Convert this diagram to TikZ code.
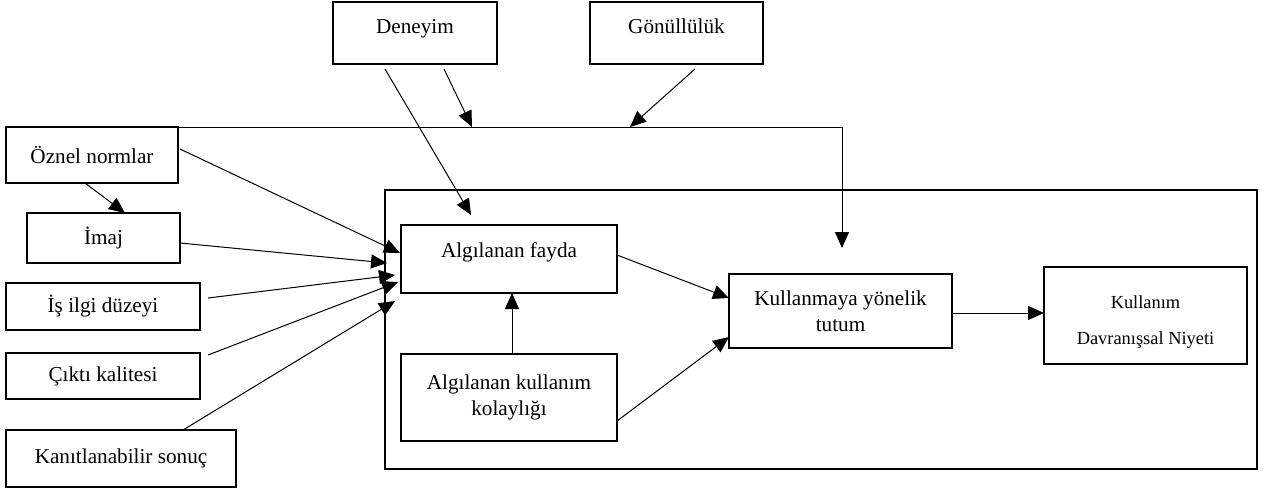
\documentclass[tikz,border=0pt]{standalone}
\usepackage{fontspec}
\setmainfont{Liberation Serif}
\usetikzlibrary{arrows.meta,calc}
\begin{document}
\begin{tikzpicture}[x=0.5pt,y=-0.5pt,
  box/.style={draw,line width=1.2pt,rectangle,inner sep=0pt,outer sep=0pt,align=center,font=\fontsize{10.6}{13}\selectfont},
  conn/.style={line width=0.5pt,-{Triangle[length=8pt,width=7pt]}},
  lbl/.style={inner sep=0pt,align=center}]
\useasboundingbox (0,0) rectangle (1263,488);
% outer frame
\draw[line width=1pt] (385,190) rectangle (1257,469);
% nodes
\node[box,minimum width=82pt,minimum height=31pt,text depth=7pt] (den) at (415,33) {Deneyim};
\node[box,minimum width=86.5pt,minimum height=31pt,text depth=7pt] (gon) at (676.5,33) {Gönüllülük};
\node[box,minimum width=86pt,minimum height=28pt] (oz) at (92,155) {Öznel normlar};
\node[box,minimum width=76.5pt,minimum height=25pt] (im) at (103.5,238) {İmaj};
\node[box,minimum width=97pt,minimum height=23.5pt] (is) at (103,306.5) {İş ilgi düzeyi};
\node[box,minimum width=97pt,minimum height=23pt] (cik) at (103,376) {Çıktı kalitesi};
\node[box,minimum width=115pt,minimum height=28.5pt] (kan) at (121,458.5) {Kanıtlanabilir sonuç};
\node[box,minimum width=108pt,minimum height=34pt,text depth=9pt] (fay) at (509,259) {Algılanan fayda};
\node[box,minimum width=108pt,minimum height=43.5pt] (kol) at (509,397.5) {Algılanan kullanım\\kolaylığı};
\node[box,minimum width=111.5pt,minimum height=37pt] (tut) at (840.5,311) {Kullanmaya yönelik\\tutum};
\node[box,minimum width=101.5pt,minimum height=48.5pt] (niy) at (1145.5,315.5) {};
\node[lbl,font=\fontsize{9.2}{18}\selectfont] (niyt) at (1145.5,322.5) {Kullanım\\Davranışsal Niyeti};
% coordinates on the moderating line
\coordinate (j1) at (472,127);
\coordinate (j2) at (630,127);
\coordinate (c1) at (842,127);
\coordinate (c2) at (842,248);
% moderating line
\draw[conn] ([xshift=-10pt]oz.north east) -- (c1) -- (c2);
\draw[conn] ([xshift=14.5pt,yshift=-2.5pt]den.south) -- (j1);
\draw[conn] ([xshift=9.25pt,yshift=-2.5pt]gon.south) -- (j2);
\draw[conn] ([xshift=-15pt,yshift=-2.5pt]den.south) -- ([xshift=-19pt,yshift=5pt]fay.north);
% external variables
\draw[conn] ([xshift=-3.5pt]oz.south) -- ([xshift=10.75pt]im.north);
\draw[conn] ([xshift=1pt,yshift=3pt]oz.east) -- ([xshift=-0.5pt,yshift=3pt]fay.west);
\draw[conn] ([yshift=-2.5pt]im.east) -- ([xshift=-7pt,yshift=-2pt]fay.west);
\draw[conn] ([xshift=4pt,yshift=4.25pt]is.east) -- ([xshift=-3pt,yshift=-8pt]fay.west);
\draw[conn] ([xshift=4pt,yshift=10.5pt]cik.east) -- ([xshift=-1.5pt,yshift=-11.5pt]fay.west);
\draw[conn] ([xshift=31pt]kan.north) -- ([xshift=-3pt,yshift=-21pt]fay.west);
% internal
\draw[conn] ([xshift=1.5pt]kol.north) -- ([xshift=1.5pt]fay.south);
\draw[conn] ([yshift=2pt]fay.east) -- ([yshift=6.5pt]tut.west);
\draw[conn] ([yshift=-11.75pt]kol.east) -- ([yshift=-13pt]tut.west);
\draw[conn] ([yshift=-1pt]tut.east) -- ([yshift=-1pt]tut.east -| niy.west);
\end{tikzpicture}
\end{document}
